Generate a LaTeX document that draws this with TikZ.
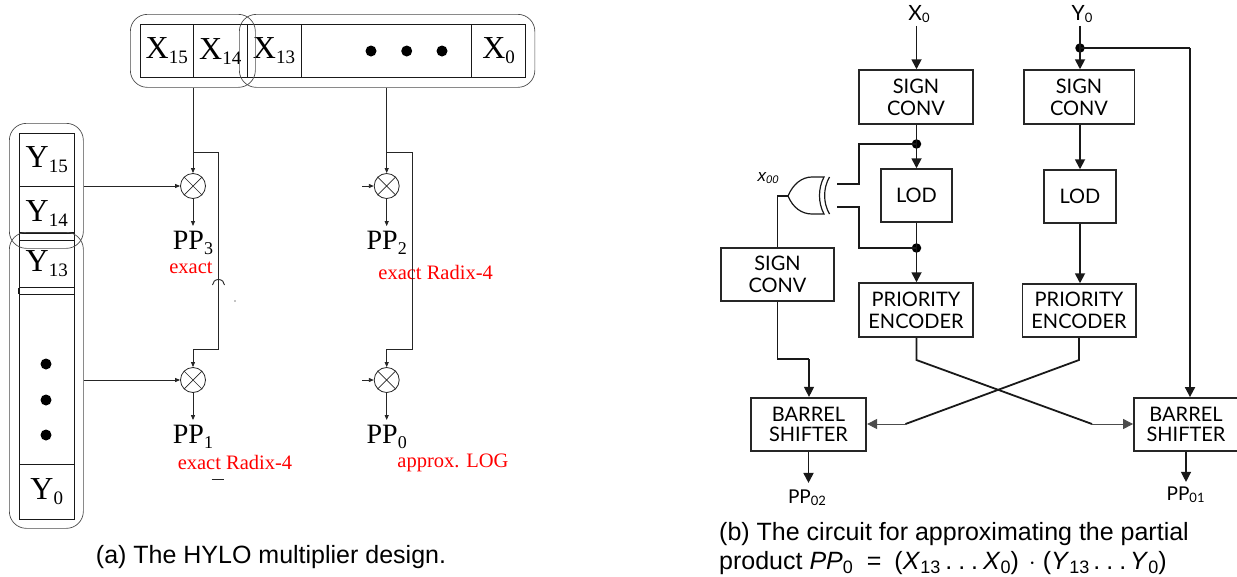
\documentclass[tikz,border=0pt]{standalone}
\usepackage{fontspec}
\setmainfont{Liberation Serif}
\newfontfamily\capfont{Liberation Sans}
\newfontfamily\blockfont{Lato}
\usetikzlibrary{arrows.meta}
\newcommand{\fsz}[1]{\fontsize{#1}{#1}\selectfont}
\newcommand{\regtxt}[2]{{\fsz{32}#1}\raisebox{-5pt}{\fsz{19}#2}}
\newcommand{\pptxt}[1]{{\fsz{28}PP}\raisebox{-5pt}{\fsz{18}#1}}
\newcommand{\blocksub}[3]{{\blockfont\fsz{#3}#1}\raisebox{-2pt}{\blockfont\fsz{13}#2}}
\newcommand{\capsub}[1]{\raisebox{-4pt}{\fsz{18}\upshape #1}}
\tikzset{
  cell/.style={draw=black!90,line width=1.1pt,inner sep=0pt,anchor=north west},
  group/.style={draw=black!70,line width=.7pt,rounded corners=17pt},
  wire/.style={draw=black!85,line width=.9pt},
  arrowa/.style={wire,-{Triangle[length=5pt,width=4pt]}},
  mul/.style={circle,draw=black!85,line width=.8pt,minimum size=25pt,inner sep=0pt},
  redlbl/.style={red,font=\fsz{20.5},inner sep=0pt},
  pplbl/.style={inner sep=0pt},
  dotc/.style={circle,fill=black,inner sep=0pt,minimum size=11pt},
  blockb/.style={draw=black!85,line width=1.5pt,align=center,font=\blockfont\fsz{20},inner sep=0pt,text depth=0pt},
  net/.style={draw=black!90,line width=1.8pt},
  arrowb/.style={net,-{Triangle[length=10pt,width=10pt]}},
  joint/.style={circle,fill=black,inner sep=0pt,minimum size=9.5pt},
  caplbl/.style={font=\capfont\fsz{25},inner sep=0pt},
}
\begin{document}
\begin{tikzpicture}[x=1pt,y=-1pt]
\useasboundingbox (0,0) rectangle (1237,576);
% ---------- X register
\node[cell,minimum width=53.5pt,minimum height=53pt] (x15) at (139.5,24) {\regtxt{X}{15}};
\node[cell,minimum width=53.5pt,minimum height=53pt] (x14) at (193,24) {\regtxt{X}{14}};
\node[cell,minimum width=54pt,minimum height=53pt] (x13) at (246.5,24) {\regtxt{X}{13}};
\node[cell,minimum width=170.5pt,minimum height=53pt] (xmid) at (300.5,24) {};
\node[cell,minimum width=54pt,minimum height=53pt] (x0) at (471,24) {\regtxt{X}{0}};
\node[dotc] (xd1) at (371,51) {};
\node[dotc] (xd2) at (406.7,51) {};
\node[dotc] (xd3) at (442,51) {};
\node[group,minimum width=125pt,minimum height=73pt,anchor=north west] (gx1) at (130,14) {};
\node[group,minimum width=295.5pt,minimum height=73pt,anchor=north west] (gx2) at (239,14) {};
% ---------- Y register
\node[cell,minimum width=54.5pt,minimum height=53pt] (y15) at (19,133) {\regtxt{Y}{15}};
\node[cell,minimum width=54.5pt,minimum height=54pt] (y14) at (19,186) {\regtxt{Y}{14}};
\node[cell,minimum width=54.5pt,minimum height=47pt] (y13) at (19,240) {\regtxt{Y}{13}};
\node[cell,minimum width=54.5pt,minimum height=170pt] (ymid) at (19,294) {};
\node[cell,minimum width=54.5pt,minimum height=55pt] (y0) at (19,464) {\regtxt{Y}{0}};
\draw[cell] (y13.south west) -- (ymid.north west) (y13.south east) -- (ymid.north east);
\draw[cell] (y14.west |- 0,233) -- (y14.east |- 0,233);
\node[dotc] (yd1) at (46,364) {};
\node[dotc] (yd2) at (46,400) {};
\node[dotc] (yd3) at (46,435) {};
\node[group,minimum width=74pt,minimum height=125pt,anchor=north west] (gy1) at (9,123) {};
\node[group,minimum width=74pt,minimum height=296pt,anchor=north west] (gy2) at (9,232) {};
% ---------- multipliers
\foreach \n/\px/\py in {m3/193/186,m2/386.7/186,m1/193/380,m0/386.7/380}{
  \node[mul] (\n) at (\px,\py) {};
  \draw[wire,line width=.7pt] (\n.45) -- (\n.225) (\n.135) -- (\n.315);
}
\node[pplbl] (pp3) at (193,243) {\pptxt{3}};
\node[pplbl] (pp2) at (386.7,243) {\pptxt{2}};
\node[pplbl] (pp1) at (193,437) {\pptxt{1}};
\node[pplbl] (pp0) at (386.7,437) {\pptxt{0}};
\node[redlbl] (l3) at (191,268) {exact};
\node[redlbl] (l2) at (435.6,272) {exact Radix-4};
\node[redlbl] (l1) at (235,462) {exact Radix-4};
\node[redlbl] (l0) at (453,463) {approx. LOG};
% connectors
\coordinate (b3) at (193,152); \coordinate (c3) at (218,152);
\coordinate (d3) at (218,349); \coordinate (e3) at (193,349);
\coordinate (b2) at (386.7,152); \coordinate (c2) at (412,152);
\coordinate (d2) at (412,349); \coordinate (e2) at (386.7,349);
\coordinate (s2) at (362,186); \coordinate (s0) at (362,380);
\draw[arrowa] (gx1.south -| m3) -- (m3.north);
\draw[arrowa] (gx2.south -| m2) -- (m2.north);
\draw[arrowa] (b3) -- (c3) -- (d3) -- (e3) -- (m1.north);
\draw[arrowa] (b2) -- (c2) -- (d2) -- (e2) -- (m0.north);
\draw[arrowa] (gy1.east |- m3) -- (m3.west);
\draw[arrowa] (gy2.east |- m1) -- (m1.west);
\draw[arrowa] (s2) -- (m2.west);
\draw[arrowa] (s0) -- (m0.west);
\draw[arrowa,shorten >=5pt] (m3.south) -- (pp3.north -| m3);
\draw[arrowa,shorten >=5pt] (m2.south) -- (pp2.north -| m2);
\draw[arrowa,shorten >=5pt] (m1.south) -- (pp1.north -| m1);
\draw[arrowa,shorten >=5pt] (m0.south) -- (pp0.north -| m0);
% stray marks of the figure
\draw[wire] (212.5,285) arc[start angle=180,end angle=360,x radius=6,y radius=5.5];
\fill (235,301) circle[radius=.6];
\draw[wire,line width=1pt] (211.5,479) -- (224,479);
\node[caplbl] (capa) at (271,557) {(a) The HYLO multiplier design.};
% ---------- right circuit
\node[inner sep=0pt] (inx) at (919,14) {\blocksub{X}{0}{21}};
\node[inner sep=0pt] (iny) at (1082,14) {\blocksub{Y}{0}{21}};
\node[blockb,minimum width=114pt,minimum height=54pt] (sc1) at (916,97) {SIGN\\[2pt]CONV};
\node[blockb,minimum width=110.5pt,minimum height=54pt] (sc2) at (1079,97) {SIGN\\[2pt]CONV};
\node[blockb,minimum width=71pt,minimum height=53pt] (lod1) at (916.5,195.5) {LOD};
\node[blockb,minimum width=72pt,minimum height=53pt] (lod2) at (1080,196.5) {LOD};
\node[blockb,minimum width=114pt,minimum height=54pt] (pe1) at (916,310) {PRIORITY\\[2pt]ENCODER};
\node[blockb,minimum width=113.5pt,minimum height=53pt] (pe2) at (1079,310.5) {PRIORITY\\[2pt]ENCODER};
\node[blockb,minimum width=113pt,minimum height=53pt] (sc3) at (777.5,274.5) {SIGN\\[2pt]CONV};
\node[blockb,line width=2.2pt,minimum width=115pt,minimum height=53pt] (bs1) at (808.5,424.5) {BARREL\\[0pt]SHIFTER};
\node[blockb,line width=1.8pt,minimum width=104pt,minimum height=53pt] (bs2) at (1186,424.5) {BARREL\\[0pt]SHIFTER};
\node[inner sep=0pt] (pp02) at (807,498) {\blocksub{PP}{02}{19}};
\node[inner sep=0pt] (pp01) at (1185.6,495) {\blocksub{PP}{01}{19}};
\node[inner sep=0pt,font=\capfont\itshape\fsz{17}] (x00) at (768,178) {x\raisebox{-2pt}{\fsz{11}00}};
% xor gate
\coordinate (gin1) at (837,184);
\coordinate (gin2) at (837,207);
\coordinate (gout) at (788,196);
\draw[net,line width=1.2pt] (gout) .. controls (793,184) and (802,177) .. (812,177) -- (824,177)
   .. controls (818,188) and (818,203) .. (824,214) -- (812,214)
   .. controls (802,214) and (793,208) .. (gout);
\draw[net,line width=1.2pt] (829.5,177) .. controls (823,188) and (823,203) .. (829.5,214);
% junctions
\node[joint] (j1) at (916.5,144) {};
\node[joint] (j2) at (916.5,248) {};
\node[joint] (j3) at (1080,48) {};
\coordinate (n1) at (858.6,144); \coordinate (n2) at (858.6,184);
\coordinate (n3) at (858.6,248); \coordinate (n4) at (858.6,207);
\coordinate (r1) at (1190,48);
\coordinate (o1) at (777.4,196);
\coordinate (t1) at (777.4,359); \coordinate (t2) at (809,359);
\coordinate (u1) at (916.4,360); \coordinate (u2) at (1092,424);
\coordinate (v1) at (1079,360); \coordinate (v2) at (905.5,424);
\draw[arrowb] (inx.south -| j1) ++(0,3) -- (sc1.north -| j1);
\draw[net] (iny.south -| j3) ++(0,3) -- (j3.center);
\draw[arrowb] (j3.center) -- (sc2.north -| j3);
\draw[net] (sc1.south -| j1) -- (j1.center);
\draw[arrowb] (j1.center) -- (lod1.north -| j1);
\draw[net] (lod1.south -| j1) -- (j2.center);
\draw[arrowb] (j2.center) -- (pe1.north -| j2);
\draw[arrowb] (sc2.south -| lod2) -- (lod2.north);
\draw[arrowb] (lod2.south) -- (pe2.north -| lod2);
\draw[net] (j1.center) -- (n1) -- (n2) -- (gin1);
\draw[net] (j2.center) -- (n3) -- (n4) -- (gin2);
\draw[net,line width=1.2pt] (gout) -- (o1 -| sc3) -- (sc3.north);
\draw[net,line width=1.2pt] (sc3.south) -- (sc3.south |- t1) -- (t2);
\draw[arrowb,line width=1.2pt] (t2) -- (t2 |- bs1.north);
\draw[net] (j3.center) -- (r1);
\draw[arrowb] (r1) -- (r1 |- bs2.north);
\draw[net] (pe1.south -| u1) -- (u1) -- (u2);
\draw[arrowb,draw=black!70,line width=.9pt] (u2) -- (u2 -| bs2.west);
\draw[net] (pe2.south -| v1) -- (v1) -- (v2);
\draw[arrowb,draw=black!70,line width=.9pt] (v2) -- (v2 -| bs1.east);
\draw[arrowb,shorten >=7pt] (bs1.south) -- (pp02.north -| bs1);
\draw[arrowb,line width=1.2pt,shorten >=5pt] (bs2.south) -- (pp01.north -| bs2);
\node[caplbl,anchor=west] (capb1) at (719,534) {(b) The circuit for approximating the partial};
\node[caplbl,anchor=west] (capb2) at (719,563) {product \textit{PP}\capsub{0}\hspace{14pt}=\hspace{13pt}(\textit{X}\capsub{13}\hspace{5pt}.\hspace{6pt}.\hspace{6pt}.\hspace{5pt}\textit{X}\capsub{0})\hspace{10pt}$\cdot$\hspace{7pt}(\textit{Y}\capsub{13}\hspace{4pt}.\hspace{6pt}.\hspace{6pt}.\hspace{4pt}\textit{Y}\capsub{0})};
\end{tikzpicture}
\end{document}
